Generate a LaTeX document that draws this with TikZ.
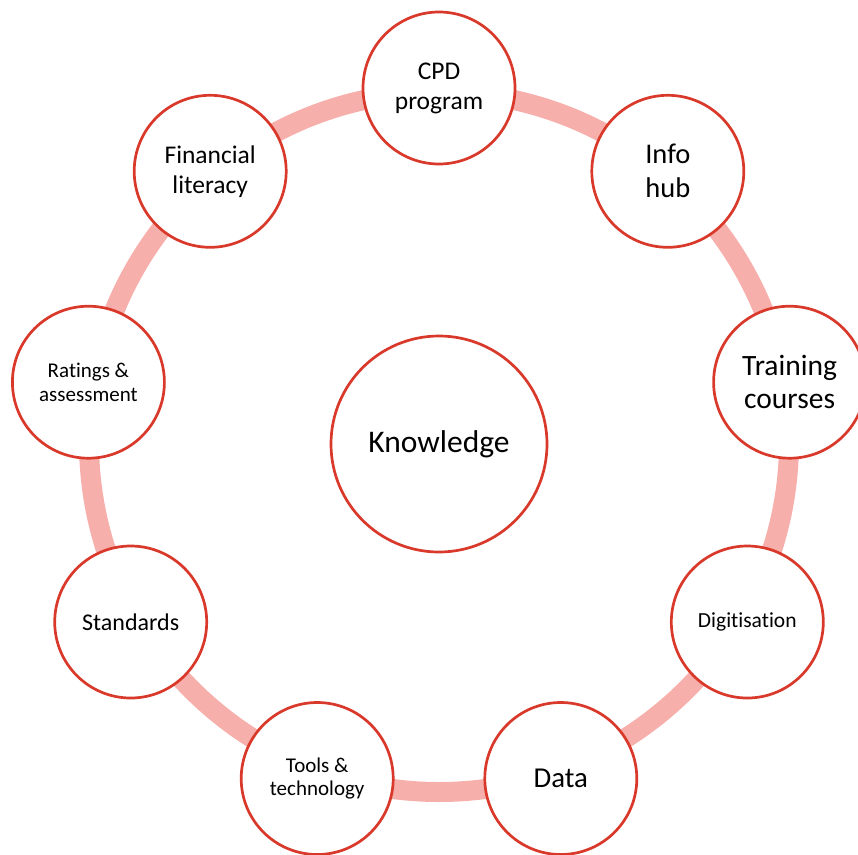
\documentclass[tikz,border=0pt]{standalone}
\usepackage{fontspec}
\setmainfont{Carlito}[Ligatures=NoCommon]
\definecolor{edgered}{HTML}{D9392A}
\definecolor{ringpink}{HTML}{F7AFAC}
\begin{document}
\begin{tikzpicture}[x=1pt,y=-1pt,
  topic/.style={circle,draw=edgered,line width=2.7pt,fill=white,
    minimum size=152pt,inner sep=0pt,align=center,text=black},
  core/.style={topic,minimum size=216pt},
  ring/.style={draw=ringpink,line width=20pt}]
\useasboundingbox (0,0) rectangle (858,854);

% cycle ring behind the topics
\coordinate (rc) at (439,442);
\draw[ring] (rc) circle[radius=350];

% central topic
\node[core,font=\fontsize{31.5}{38}\selectfont] (k) at (439,444) {Knowledge};

% surrounding topics, clockwise from the top
\node[topic,font=\fontsize{25.5}{30}\selectfont] (cpd) at (439,88) {CPD\\program};
\node[topic,font=\fontsize{28.5}{34}\selectfont] (info) at (667.8,171.3) {Info\\hub};
\node[topic,font=\fontsize{29.5}{33}\selectfont] (train) at (789.6,382.2) {Training\\courses};
\node[topic,font=\fontsize{21.5}{26}\selectfont] (dig) at (747.3,622) {Digitisation};
\node[topic,font=\fontsize{28.8}{34}\selectfont] (data) at (560.8,778.5) {Data};
\node[topic,font=\fontsize{21}{23.5}\selectfont] (tools) at (317.2,778.5) {Tools \&\\technology};
\node[topic,font=\fontsize{24}{29}\selectfont] (std) at (130.7,622) {Standards};
\node[topic,font=\fontsize{21}{24}\selectfont] (rate) at (88.4,382.2) {Ratings \&\\assessment};
\node[topic,font=\fontsize{25.5}{30}\selectfont] (fin) at (210.2,171.3) {Financial\\literacy};
\end{tikzpicture}
\end{document}
